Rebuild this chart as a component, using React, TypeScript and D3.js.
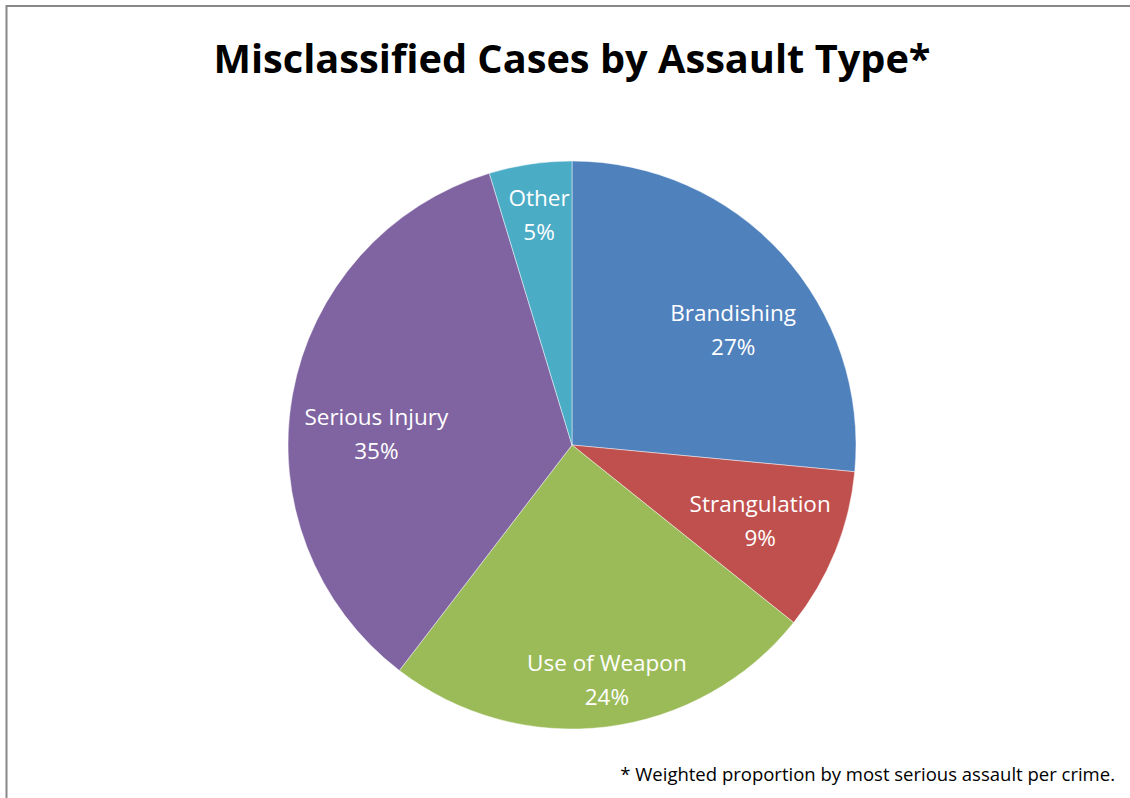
import React from "react";
import * as d3 from "d3";

const categories = ["Brandishing", "Strangulation", "Use of Weapon", "Serious Injury", "Other"];
const values = [26.5, 9.25, 24.65, 34.9, 4.7];
const percentLabels = ["27%", "9%", "24%", "35%", "5%"];
const colors = ["#4F81BD", "#C0504D", "#9BBB59", "#8064A2", "#4BACC6"];

// label layout (radius in px, angle nudge in degrees)
const labelRadius = [198, 203, 238, 196, 232];
const labelAngleShift = [6.8, 0, -1.5, -7, 0.3];

const W = 1130;
const H = 798;
const cx = 572;
const cy = 445;
const R = 284;

export default function App() {
  const pie = d3.pie<number>().sort(null).value((d) => d);
  const arcs = pie(values);
  const arcGen = d3.arc<d3.PieArcDatum<number>>().innerRadius(0).outerRadius(R);

  return (
    <svg
      width={W}
      height={H}
      style={{ position: "absolute", left: 0, top: 0, background: "#fff" }}
      fontFamily="'Open Sans', sans-serif"
    >
      <rect x={0} y={0} width={W} height={H} fill="#fff" />
      <path d={`M6.5,${H + 5} L6.5,6 L${W + 5},6`} fill="none" stroke="#888" strokeWidth={2} />
      <text
        x={572}
        y={73}
        textAnchor="middle"
        fontSize={40}
        fontWeight="bold"
        fill="#000"
        textLength={717}
        lengthAdjust="spacingAndGlyphs"
      >
        Misclassified Cases by Assault Type*
      </text>
      <g transform={`translate(${cx},${cy})`}>
        {arcs.map((a, i) => (
          <path key={i} d={arcGen(a) || ""} fill={colors[i]} stroke="#ffffff" strokeOpacity={0.45} strokeWidth={1} />
        ))}
        {arcs.map((a, i) => {
          const mid = (a.startAngle + a.endAngle) / 2 + (labelAngleShift[i] * Math.PI) / 180;
          const x = Math.sin(mid) * labelRadius[i];
          const y = -Math.cos(mid) * labelRadius[i];
          return (
            <g key={"l" + i} fill="#fff" fontSize={22.5} textAnchor="middle">
              <text x={x} y={y - 17} dy="0.35em">
                {categories[i]}
              </text>
              <text x={x} y={y + 17} dy="0.35em">
                {percentLabels[i]}
              </text>
            </g>
          );
        })}
      </g>
      <text x={1115} y={781} textAnchor="end" fontSize={18.5} fill="#000">
        * Weighted proportion by most serious assault per crime.
      </text>
    </svg>
  );
}
